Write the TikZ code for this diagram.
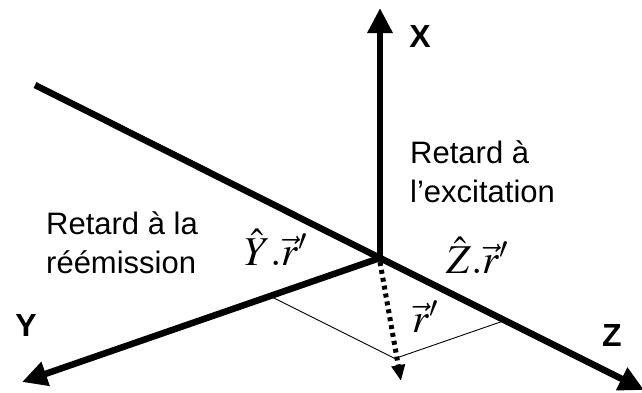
\documentclass[tikz,border=0pt]{standalone}
\usepackage{amsmath}
\usepackage{mathptmx}
\usepackage[no-math]{fontspec}
\setmainfont{Liberation Sans}
\usetikzlibrary{arrows.meta,positioning,calc}

\begin{document}
\begin{tikzpicture}[x=1pt,y=-1pt,
  axis/.style={line width=6.5pt,-{Triangle[length=25pt,width=24pt]}},
  projline/.style={line width=0.9pt},
  vecline/.style={line width=5pt,dash pattern=on 4pt off 4pt,
    -{Triangle[length=16pt,width=13pt]}},
  axlabel/.style={inner sep=0pt,font=\fontsize{32}{32}\selectfont\bfseries},
  txt/.style={inner sep=0pt,anchor=north west,align=left,
    font=\fontsize{31}{39}\selectfont},
  mathlbl/.style={inner sep=0pt,anchor=base west,font=\fontsize{41}{41}\selectfont}]
\useasboundingbox (0,0) rectangle (642,392);
% axes
\coordinate (O) at (380,258);
\coordinate (Xtip) at (380,8);
\coordinate (Ztail) at (35,85);
\coordinate (Ztip) at (644,390);
\coordinate (Ytip) at (22,382);
\draw[line width=6.5pt] (O) -- (Ztail);
\draw[axis] (O) -- (Xtip);
\draw[axis] (O) -- (Ztip);
\draw[axis] (O) -- (Ytip);
% projections
\coordinate (Yp) at ($(O)!0.307!(Ytip)$);
\coordinate (Zp) at ($(O)!0.473!(Ztip)$);
\coordinate (Rp) at ($(Yp)+(Zp)-(O)$);
\coordinate (R) at (401,381);
\draw[projline] (Yp) -- (Rp) -- (Zp);
\draw[vecline] ($(O)+(0,4)$) -- (R);
% labels
\node[axlabel] (lx) at (420,36) {X};
\node[axlabel] (ly) at (26,325) {Y};
\node[axlabel] (lz) at (612,335) {Z};
\node[txt] (exc) at (410,140) {Retard à\\l’excitation};
\node[txt] (reem) at (46,211) {Retard à la\\réémission};
\node[mathlbl] (ydot) at (244,265) {$\hat{Y}.\vec{r}'$};
\node[mathlbl] (zdot) at (446,273) {$\hat{Z}.\vec{r}'$};
\node[mathlbl] (rvec) at (412,332) {$\vec{r}'$};
\end{tikzpicture}
\end{document}
